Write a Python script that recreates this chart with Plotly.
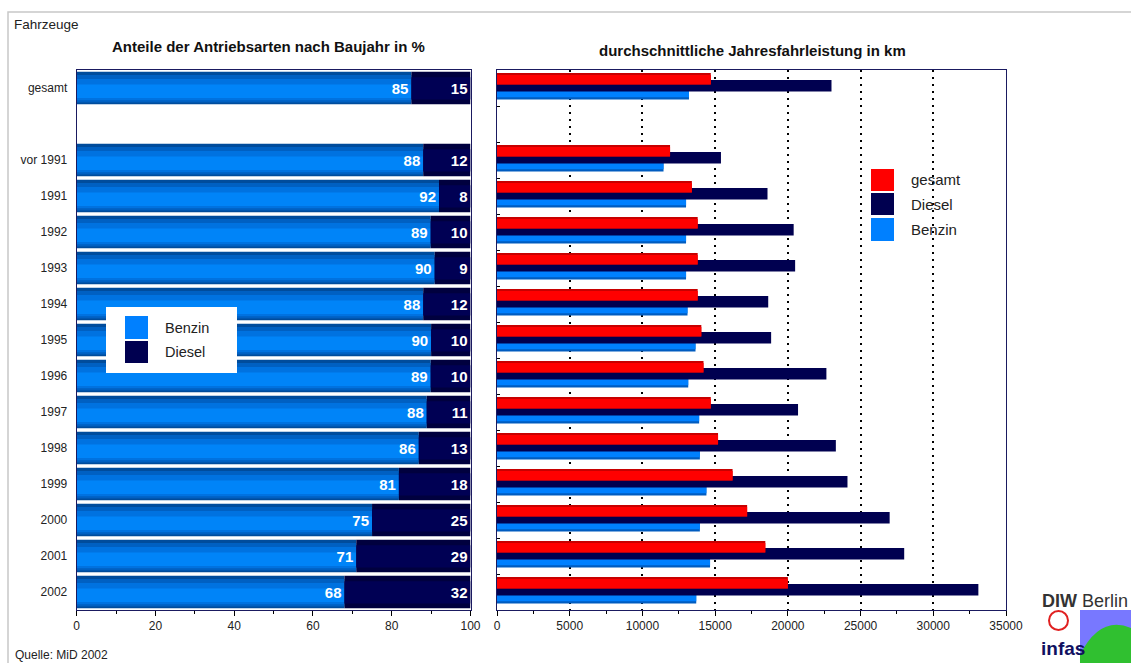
import plotly.graph_objects as go

# ---------------- data ----------------
categories = ["gesamt", " ", "vor 1991", "1991", "1992", "1993", "1994", "1995",
              "1996", "1997", "1998", "1999", "2000", "2001", "2002"]
benzin_pct = [85, None, 88, 92, 89, 90, 88, 90, 89, 88, 86, 81, 75, 71, 68]
diesel_pct = [15, None, 12, 8, 10, 9, 12, 10, 10, 11, 13, 18, 25, 29, 32]

km_gesamt = [14700, None, 11900, 13400, 13800, 13800, 13800, 14050, 14200, 14700,
             15200, 16200, 17200, 18450, 20000]
km_diesel = [23000, None, 15400, 18600, 20400, 20500, 18650, 18850, 22650, 20700,
             23300, 24100, 27000, 28000, 33100]
km_benzin = [13200, None, 11450, 13000, 13000, 13000, 13100, 13650, 13150, 13900,
             13950, 14400, 13950, 14650, 13700]

pct_ticks = [0, 20, 40, 60, 80, 100]
pct_grid = [40, 60, 80]
km_ticks = [0, 5000, 10000, 15000, 20000, 25000, 30000, 35000]

# 100 %-stacked normalisation
benzin_norm, diesel_norm = [], []
for b, d in zip(benzin_pct, diesel_pct):
    if b is None:
        benzin_norm.append(None); diesel_norm.append(None)
    else:
        t = b + d
        benzin_norm.append(b / t * 100); diesel_norm.append(d / t * 100)

W, H = 1131, 663
FONT = "Liberation Sans, Arial, sans-serif"
NAVY = "#000050"
BLUE = "#0080ff"
RED = "#ff0000"


def X(px):
    return px / W


def Y(py):
    return 1 - py / H


fig = go.Figure()

# ---------- left chart: shares (gradient imitated with layers) ----------
benzin_layers = [(-0.45, 0.90, "#004c9c"), (-0.36, 0.76, "#0060c2"),
                 (-0.25, 0.59, "#0072e0"), (-0.10, 0.38, "#0084f8")]
for off, w, col in benzin_layers:
    fig.add_trace(go.Bar(y=categories, x=benzin_norm, orientation="h", offset=off,
                         width=w, marker=dict(color=col, line=dict(width=0)),
                         showlegend=False, hoverinfo="skip", xaxis="x", yaxis="y"))
diesel_layers = [(-0.45, 0.90, "#00003e"), (-0.30, 0.62, "#000054")]
for off, w, col in diesel_layers:
    fig.add_trace(go.Bar(y=categories, x=diesel_norm, base=benzin_norm, orientation="h",
                         offset=off, width=w, marker=dict(color=col, line=dict(width=0)),
                         showlegend=False, hoverinfo="skip", xaxis="x", yaxis="y"))
# labels
lab_font = dict(family=FONT, size=15, color="white", weight="bold")
fig.add_trace(go.Bar(y=categories, x=benzin_norm, orientation="h", offset=-0.45, width=0.9,
                     marker=dict(color="rgba(0,0,0,0)", line=dict(width=0)),
                     text=[str(v) if v is not None else "" for v in benzin_pct],
                     textposition="inside", insidetextanchor="end", textangle=0,
                     insidetextfont=lab_font, showlegend=False, hoverinfo="skip",
                     xaxis="x", yaxis="y"))
fig.add_trace(go.Bar(y=categories, x=diesel_norm, base=benzin_norm, orientation="h",
                     offset=-0.45, width=0.9,
                     marker=dict(color="rgba(0,0,0,0)", line=dict(width=0)),
                     text=[str(v) if v is not None else "" for v in diesel_pct],
                     textposition="inside", insidetextanchor="end", textangle=0,
                     insidetextfont=lab_font, showlegend=False, hoverinfo="skip",
                     xaxis="x", yaxis="y"))

# ---------- right chart: km per year ----------
h = 0.32
fig.add_trace(go.Bar(y=categories, x=km_benzin, orientation="h", offset=0.0, width=h,
                     marker=dict(color="#005cc0", line=dict(width=0)), showlegend=False,
                     hoverinfo="skip", xaxis="x2", yaxis="y2"))
fig.add_trace(go.Bar(y=categories, x=km_benzin, orientation="h", offset=0.0, width=h - 0.06,
                     marker=dict(color=BLUE, line=dict(width=0)), showlegend=False,
                     hoverinfo="skip", xaxis="x2", yaxis="y2"))
fig.add_trace(go.Bar(y=categories, x=km_diesel, orientation="h", offset=-0.222, width=h,
                     marker=dict(color=NAVY, line=dict(width=0)), showlegend=False,
                     hoverinfo="skip", xaxis="x2", yaxis="y2"))
fig.add_trace(go.Bar(y=categories, x=km_gesamt, orientation="h", offset=-0.417, width=h,
                     marker=dict(color="#c80000", line=dict(width=0)), showlegend=False,
                     hoverinfo="skip", xaxis="x2", yaxis="y2"))
fig.add_trace(go.Bar(y=categories, x=km_gesamt, orientation="h", offset=-0.36, width=h - 0.057,
                     marker=dict(color=RED, line=dict(width=0)), showlegend=False,
                     hoverinfo="skip", xaxis="x2", yaxis="y2"))

ydom = [Y(610), Y(70)]
tickfont = dict(family=FONT, size=12, color="#222222")

fig.update_layout(
    width=W, height=H, autosize=False, margin=dict(l=0, r=0, t=0, b=0, autoexpand=False),
    paper_bgcolor="white", plot_bgcolor="white",
    barmode="overlay", bargap=0.1,
    font=dict(family=FONT, color="#222222"),
    xaxis=dict(domain=[X(76.7), X(470.5)], range=[0, 100], tickvals=pct_ticks,
               ticks="outside", ticklen=5, tickcolor="black", tickwidth=1,
               minor=dict(dtick=10, ticks="outside", ticklen=3, tickcolor="black"),
               showgrid=False, zeroline=False, showline=True, linecolor="#1a1a60",
               linewidth=1, mirror=True, tickfont=tickfont, anchor="y", automargin=False),
    xaxis3=dict(overlaying="x", range=[0, 100], tickvals=pct_grid, showticklabels=False,
                ticks="", showgrid=True, gridcolor="black", gridwidth=2, griddash="2px,5px",
                zeroline=False, showline=False, anchor="y", automargin=False),
    yaxis=dict(domain=ydom, type="category", categoryorder="array", categoryarray=categories,
               autorange="reversed", ticks="", showgrid=False, showline=True,
               linecolor="#1a1a60", linewidth=1, mirror=True, tickfont=tickfont,
               ticklabelstandoff=6, anchor="x", automargin=False),
    xaxis2=dict(domain=[X(497), X(1006)], range=[0, 35000], tickvals=km_ticks,
                tickformat="d",
                ticks="outside", ticklen=5, tickcolor="black",
                minor=dict(dtick=2500, ticks="outside", ticklen=3, tickcolor="black"),
                showgrid=True, gridcolor="black", gridwidth=2, griddash="2px,5px",
                zeroline=False, showline=True, linecolor="#1a1a60", linewidth=1, mirror=True,
                tickfont=tickfont, anchor="y2", automargin=False),
    yaxis2=dict(domain=ydom, type="category", categoryorder="array", categoryarray=categories,
                autorange="reversed", showticklabels=False, ticks="inside", ticklen=3,
                tickson="boundaries", tickcolor="black", showgrid=False, showline=True,
                linecolor="#1a1a60", linewidth=1, mirror=True, anchor="x2", automargin=False),
)

ann = []
shapes = []
# outer frame
shapes.append(dict(type="rect", xref="paper", yref="paper", x0=X(8), y0=-0.02, x1=1.02, y1=Y(12),
                   line=dict(color="#c8c8c8", width=1.5), fillcolor="rgba(0,0,0,0)", layer="below"))

ann.append(dict(text="Fahrzeuge", x=X(12), y=Y(25), xref="paper", yref="paper",
                xanchor="left", yanchor="middle", showarrow=False,
                font=dict(family=FONT, size=13.5, color="#222222")))
ann.append(dict(text="<b>Anteile der Antriebsarten nach Baujahr in %</b>", x=X(268), y=Y(47),
                xref="paper", yref="paper", xanchor="center", yanchor="middle", showarrow=False,
                font=dict(family=FONT, size=15, color="#111111")))
ann.append(dict(text="<b>durchschnittliche Jahresfahrleistung in km</b>", x=X(752), y=Y(51),
                xref="paper", yref="paper", xanchor="center", yanchor="middle", showarrow=False,
                font=dict(family=FONT, size=15, color="#111111")))
ann.append(dict(text="Quelle: MiD 2002", x=X(13), y=Y(655), xref="paper", yref="paper",
                xanchor="left", yanchor="middle", showarrow=False,
                font=dict(family=FONT, size=12, color="#222222")))

# left legend
shapes.append(dict(type="rect", xref="paper", yref="paper", x0=X(106), x1=X(237), y0=Y(373), y1=Y(307),
                   fillcolor="white", line=dict(width=0), layer="above"))
leg_left = [("Benzin", BLUE, 316, 339), ("Diesel", NAVY, 341, 363)]
for name, col, t, b in leg_left:
    shapes.append(dict(type="rect", xref="paper", yref="paper", x0=X(125), x1=X(148), y0=Y(b), y1=Y(t),
                       fillcolor=col, line=dict(width=0), layer="above"))
    ann.append(dict(text=name, x=X(163), y=Y((t + b) / 2), xref="paper", yref="paper",
                    xanchor="left", yanchor="middle", showarrow=False,
                    font=dict(family=FONT, size=14.5, color="#222222")))

# right legend
leg_right = [("gesamt", RED, 169, 191), ("Diesel", NAVY, 193, 215), ("Benzin", BLUE, 218, 241)]
for name, col, t, b in leg_right:
    shapes.append(dict(type="rect", xref="paper", yref="paper", x0=X(871), x1=X(894), y0=Y(b), y1=Y(t),
                       fillcolor=col, line=dict(width=0), layer="above"))
    ann.append(dict(text=name, x=X(909), y=Y((t + b) / 2), xref="paper", yref="paper",
                    xanchor="left", yanchor="middle", showarrow=False,
                    font=dict(family=FONT, size=15, color="#222222")))

# logos (text imitation)
ann.append(dict(text="<b>DIW</b> Berlin", x=X(1040), y=Y(601), xref="paper", yref="paper",
                xanchor="left", yanchor="middle", showarrow=False,
                font=dict(family=FONT, size=18, color="#333333")))
ann.append(dict(text="<b>infas</b>", x=X(1039), y=Y(648), xref="paper", yref="paper",
                xanchor="left", yanchor="middle", showarrow=False,
                font=dict(family="Liberation Sans Narrow, " + FONT, size=19, color="#101060")))
shapes.append(dict(type="circle", xref="paper", yref="paper", x0=X(1049), x1=X(1068), y0=Y(630), y1=Y(611),
                   line=dict(color="#e02020", width=2), fillcolor="white", layer="above"))
shapes.append(dict(type="rect", xref="paper", yref="paper", x0=X(1080), x1=X(1131), y0=Y(663), y1=Y(610),
                   fillcolor="#7878ff", line=dict(width=0), layer="above"))
path = "M {:.4f} {:.4f} Q {:.4f} {:.4f} {:.4f} {:.4f} L {:.4f} {:.4f} L {:.4f} {:.4f} Z".format(
    X(1080), Y(655), X(1100), Y(615), X(1131), Y(628), X(1131), Y(663), X(1080), Y(663))
shapes.append(dict(type="path", xref="paper", yref="paper", path=path,
                   fillcolor="#30c030", line=dict(width=0), layer="above"))

fig.update_layout(annotations=ann, shapes=shapes)
post = ("document.body.style.margin='0';document.body.style.overflow='hidden';"
        "var gd=document.getElementById('{plot_id}');"
        "Plotly.relayout(gd,{width:1131,height:663,autosize:false});")
fig.write_html("out.html", config={"displayModeBar": False, "responsive": False},
               post_script=post)
